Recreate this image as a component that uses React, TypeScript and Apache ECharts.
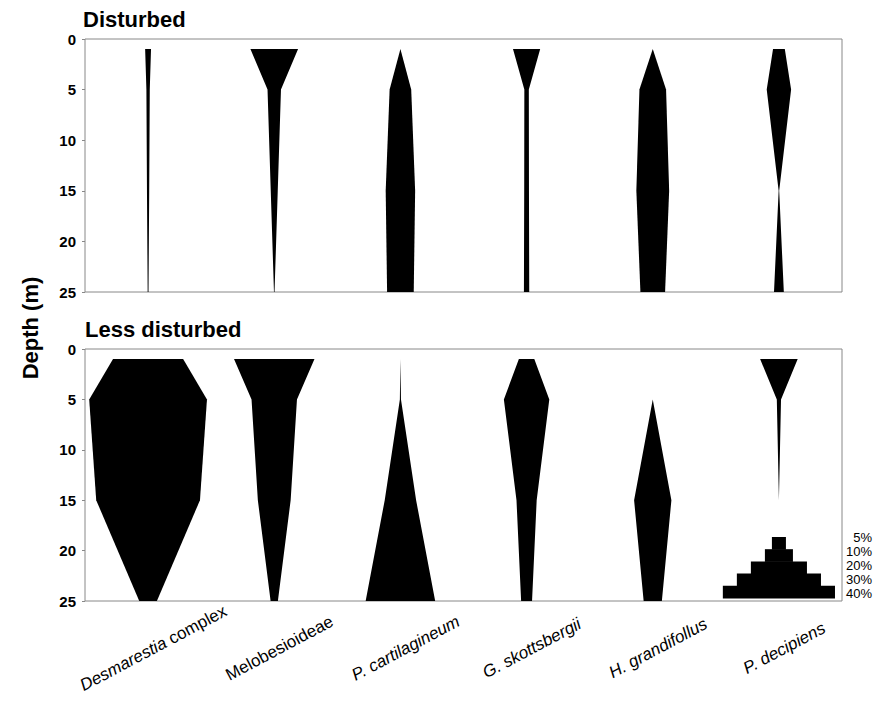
import React, { useEffect, useRef } from "react";
import * as echarts from "echarts";

const species = [
  "Desmarestia complex",
  "Melobesioideae",
  "P. cartilagineum",
  "G. skottsbergii",
  "H. grandifollus",
  "P. decipiens",
];

const depths = [1, 5, 15, 25];
const depthTicks = [0, 5, 10, 15, 20, 25];

// cover (%) at each depth, per species (order of `species`)
const disturbedCover = [
  [2.1, 1.2, 0.8, 0.3],
  [17, 4.8, 2.5, 0.2],
  [0, 7.7, 10.5, 9.5],
  [9.7, 1.6, 1.7, 1.9],
  [0, 9.5, 11.7, 8.8],
  [4.2, 8.7, 0.2, 3.5],
];

const lessDisturbedCover = [
  [25, 42, 37, 6.3],
  [28.7, 16.2, 11.7, 2.6],
  [0, 0.4, 11.2, 24.8],
  [5.5, 16.2, 7.2, 3.9],
  [0, 0, 13.3, 6.5],
  [13.4, 1.5, 0, 0],
];

const legendSteps = [5, 10, 20, 30, 40];
const legendLabels = ["5%", "10%", "20%", "30%", "40%"];
const legendColumn = 5;
const legendTopDepth = 18.65;
const legendRowDepth = 1.21;

const BAND = 45; // cover % spanned by one category band
const FONT = 'Arial, "Liberation Sans", Helvetica, sans-serif';

function kiteRender(params: any, api: any) {
  const idx = api.value(0);
  const cx = BAND * (idx + 0.5);
  const left: number[][] = [];
  const right: number[][] = [];
  depths.forEach((d, j) => {
    const w = api.value(j + 1);
    left.push(api.coord([cx - w / 2, d]));
    right.unshift(api.coord([cx + w / 2, d]));
  });
  return {
    type: "polygon",
    shape: { points: left.concat(right) },
    style: { fill: "#000" },
  };
}

function legendRender(params: any, api: any) {
  const row = api.value(0);
  const pct = api.value(1);
  const cx = BAND * (legendColumn + 0.5);
  const p1 = api.coord([cx - pct / 2, legendTopDepth + row * legendRowDepth]);
  const p2 = api.coord([cx + pct / 2, legendTopDepth + (row + 1) * legendRowDepth]);
  return {
    type: "rect",
    shape: { x: p1[0], y: p1[1], width: p2[0] - p1[0], height: p2[1] - p1[1] + 0.5 },
    style: { fill: "#000" },
  };
}

function yAxis(gridIndex: number) {
  return {
    gridIndex,
    type: "value",
    inverse: true,
    min: 0,
    max: 25,
    interval: 5,
    axisLine: { show: false },
    axisTick: { show: true, length: 3, lineStyle: { color: "#888" } },
    splitLine: { show: false },
    axisLabel: {
      color: "#000",
      fontWeight: "bold",
      fontSize: 15,
      fontFamily: FONT,
      margin: 9,
      formatter: (v: number) => (depthTicks.includes(v) ? String(v) : ""),
    },
  };
}

function labelFormatter(name: string) {
  if (name === "Desmarestia complex") return "{i|Desmarestia}{n| complex}";
  if (name === "Melobesioideae") return "{n|Melobesioideae}";
  return "{i|" + name + "}";
}

export default function App() {
  const ref = useRef<HTMLDivElement>(null);
  useEffect(() => {
    document.body.style.margin = "0";
    if (!ref.current) return;
    const chart = echarts.init(ref.current, undefined, { renderer: "svg" });
    const labelStyle = { fontSize: 17, fontFamily: FONT, color: "#000" };
    chart.setOption({
      animation: false,
      backgroundColor: "#fff",
      grid: [
        { left: 85, right: 32, top: 39, height: 253, show: true, borderColor: "#888", borderWidth: 1 },
        { left: 85, right: 32, top: 349, height: 252, show: true, borderColor: "#888", borderWidth: 1 },
      ],
      xAxis: [
        { gridIndex: 0, type: "value", min: 0, max: BAND * species.length, show: false },
        { gridIndex: 1, type: "value", min: 0, max: BAND * species.length, show: false },
        {
          gridIndex: 1,
          type: "category",
          data: species,
          position: "bottom",
          boundaryGap: true,
          axisLine: { show: false },
          axisTick: { show: false },
          axisLabel: {
            interval: 0,
            rotate: 28,
            align: "center",
            verticalAlign: "middle",
            margin: 50,
            padding: [0, 0, 0, 12],
            formatter: labelFormatter,
            rich: {
              i: { ...labelStyle, fontStyle: "italic" },
              n: { ...labelStyle, fontStyle: "normal" },
            },
          },
        },
      ],
      yAxis: [yAxis(0), yAxis(1)],
      series: [
        {
          type: "custom",
          name: "Disturbed",
          xAxisIndex: 0,
          yAxisIndex: 0,
          renderItem: kiteRender,
          data: disturbedCover.map((c, i) => [i, ...c]),
          encode: { x: 0, y: 1 },
          silent: true,
        },
        {
          type: "custom",
          name: "Less disturbed",
          xAxisIndex: 1,
          yAxisIndex: 1,
          renderItem: kiteRender,
          data: lessDisturbedCover.map((c, i) => [i, ...c]),
          encode: { x: 0, y: 1 },
          silent: true,
        },
        {
          type: "custom",
          name: "Scale",
          xAxisIndex: 1,
          yAxisIndex: 1,
          renderItem: legendRender,
          data: legendSteps.map((p, i) => [i, p]),
          encode: { x: 1, y: 0 },
          silent: true,
        },
      ],
      graphic: [
        {
          type: "text",
          left: 83,
          top: 8,
          style: { text: "Disturbed", font: `bold 22px ${FONT}`, fill: "#000" },
        },
        {
          type: "text",
          left: 85,
          top: 318,
          style: { text: "Less disturbed", font: `bold 22px ${FONT}`, fill: "#000" },
        },
        {
          type: "text",
          x: 30,
          y: 328,
          rotation: Math.PI / 2,
          style: {
            text: "Depth (m)",
            font: `bold 22px ${FONT}`,
            fill: "#000",
            align: "center",
            verticalAlign: "middle",
          },
        },
        ...legendLabels.map((t, i) => ({
          type: "text",
          x: 872,
          y: 537 + 14 * i,
          style: {
            text: t,
            font: `13px ${FONT}`,
            fill: "#000",
            align: "right",
            verticalAlign: "middle",
          },
        })),
      ],
    });
    return () => chart.dispose();
  }, []);
  return <div ref={ref} style={{ width: 874, height: 704 }} />;
}
